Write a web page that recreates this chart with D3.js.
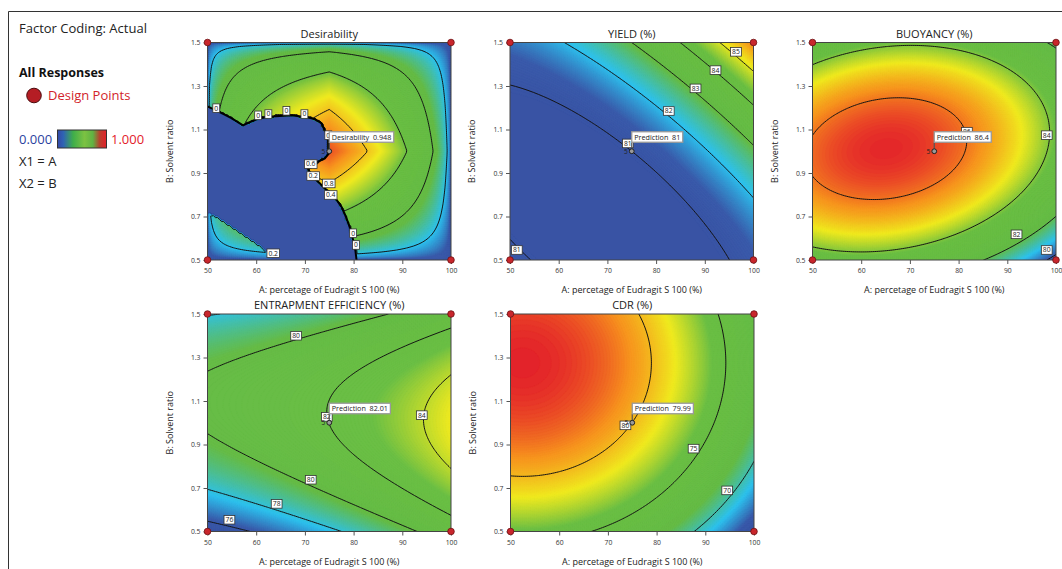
<!DOCTYPE html>
<html><head><meta charset="utf-8">
<script src="https://cdn.jsdelivr.net/npm/d3@7"></script>
<style>
body{margin:0;background:#fff;}
svg{display:block;font-family:'Open Sans',sans-serif;}
</style>
</head><body>
<svg id="c" width="1062" height="569"></svg>
<script>
// ---------------- DATA ----------------
const factorA = [50, 100];          // A: percetage of Eudragit S 100 (%)
const factorB = [0.5, 1.5];         // B: Solvent ratio
const xTicks = [50, 60, 70, 80, 90, 100];
const yTicks = [0.5, 0.7, 0.9, 1.1, 1.3, 1.5];
const designA = [50, 100, 50, 100];
const designB = [0.5, 0.5, 1.5, 1.5];
const centerA = 75, centerB = 1.0, centerReps = "5";

// fitted quadratic models, coded units: [b0, A, B, AB, A^2, B^2]
const yieldCoef = [81.0, 1.12, 1.25, 1.1, 0.75, 0.75];
const buoyCoef  = [86.4, -1.2, 0.40, 0.65, -1.5, -3.0];
const eeCoef    = [82.01, 2.25, 0.708, -0.638, 0.41, -3.6];
const cdrCoef   = [79.99, -5.4, 3.39, 0, -3.0, -3.08];

// desirability: target goals for A and B, weights [low side, high side]
const desirPeak = 0.948;
const desWeightA = [0.3, 0.45];
const desWeightB = [0.5, 0.35];
// boundary of the zero-desirability region
const zeroEdgeA = [50, 52.9, 54.9, 57.3, 59.0, 60.7, 63.2, 67.3, 70.7, 72.0, 73.4, 74.2, 74.8, 74.9, 74.1, 72.7, 71.7, 70.7, 71.0, 72.0, 73.1, 74.1, 75.5, 76.5, 77.5, 78.4, 79.3, 79.9, 80.4, 80.6];
const zeroEdgeB = [1.206, 1.175, 1.152, 1.119, 1.137, 1.152, 1.16, 1.165, 1.155, 1.148, 1.129, 1.091, 1.06, 0.99, 0.967, 0.952, 0.936, 0.921, 0.898, 0.875, 0.852, 0.829, 0.806, 0.776, 0.745, 0.70, 0.645, 0.592, 0.54, 0.5];
const wedgeEdgeA = [63.8, 62.5, 60.4, 58.3, 56.3, 54.2, 52.2, 50];
const wedgeEdgeB = [0.5, 0.531, 0.569, 0.6, 0.63, 0.661, 0.692, 0.722];

// contour levels
const desLevels = [0.2, 0.4, 0.6, 0.8];
const yieldLevels = [81, 82, 83, 84, 85];
const buoyLevels = [80, 82, 84, 86];
const eeLevels = [76, 78, 80, 82, 84];
const cdrLevels = [70, 75, 80];

// colour ranges
const desRange = [0, 1];
const yieldRange = [80.9, 86.6];
const buoyRange = [79.5, 86.7];
const eeRange = [75.2, 88];
const cdrRange = [65.2, 83.4];

// contour label placements
const desLabelA = [51.8, 60.4, 62.5, 66.2, 69.9, 74.8, 71.2, 71.7, 74.9, 75.3, 79.9, 80.5, 63.5];
const desLabelB = [1.198, 1.165, 1.171, 1.186, 1.171, 1.074, 0.941, 0.886, 0.852, 0.799, 0.623, 0.569, 0.531];
const desLabelT = ["0", "0", "0", "0", "0", "0", "0.6", "0.2", "0.8", "0.4", "0", "0", "0.2"];
const yieldLabelA = [96.4, 92.2, 88.1, 82.6, 74.2, 51.4];
const yieldLabelB = [1.457, 1.373, 1.289, 1.185, 1.036, 0.546];
const yieldLabelT = ["85", "84", "83", "82", "81", "81"];
const buoyLabelA = [81.7, 98.1, 91.9, 98.1];
const buoyLabelB = [1.09, 1.074, 0.618, 0.546];
const buoyLabelT = ["86", "84", "82", "80"];
const eeLabelA = [68.2, 94.0, 71.2, 64.2, 54.5, 74.5];
const eeLabelB = [1.40, 1.035, 0.738, 0.627, 0.554, 1.027];
const eeLabelT = ["80", "84", "80", "78", "76", "82"];
const cdrLabelA = [73.6, 87.6, 94.5];
const cdrLabelB = [0.988, 0.881, 0.689];
const cdrLabelT = ["80", "75", "70"];

const titles = ["Desirability", "YIELD (%)", "BUOYANCY (%)", "ENTRAPMENT EFFICIENCY (%)", "CDR (%)"];
const predNames = ["Desirability", "Prediction", "Prediction", "Prediction", "Prediction"];
const predValues = ["0.948", "81", "86.4", "82.01", "79.99"];

const paletteStops = [0, 0.08, 0.2, 0.36, 0.6, 0.74, 0.87, 1];
const paletteColors = ["#3953a4", "#3a5bab", "#2ec2ee", "#66bc46", "#6bbf45", "#f0ea1f", "#f7931e", "#e3202a"];
const legendStops = [0, 0.12, 0.32, 0.55, 0.72, 0.86, 1];
const legendColors = ["#3448a6", "#2f63b4", "#3fae4a", "#7cc242", "#5fb343", "#b8402e", "#e3202a"];

// ---------------- MODELS ----------------
function quad(c) {
  return (A, B) => {
    const a = (A - 75) / 25, b = (B - 1) / 0.5;
    return c[0] + c[1]*a + c[2]*b + c[3]*a*b + c[4]*a*a + c[5]*b*b;
  };
}
const zeroPoly = zeroEdgeA.map((v, i) => [v, zeroEdgeB[i]])
  .concat(wedgeEdgeA.map((v, i) => [v, wedgeEdgeB[i]]));
function desirability(A, B) {
  if (d3.polygonContains(zeroPoly, [A, B])) return 0;
  const a = (A - 75) / 25, b = (B - 1) / 0.5;
  const da = Math.pow(Math.max(0, 1 - Math.abs(a)), a < 0 ? desWeightA[0] : desWeightA[1]);
  const db = Math.pow(Math.max(0, 1 - Math.abs(b)), b < 0 ? desWeightB[0] : desWeightB[1]);
  return desirPeak * da * db;
}

const palette = d3.scaleLinear().domain(paletteStops).range(paletteColors).interpolate(d3.interpolateRgb).clamp(true);

// ---------------- LAYOUT ----------------
const svg = d3.select('#c');
const PW = 243.5, PH = 217.5;
const panels = [
  {x0: 207.5, y0: 42.5, f: desirability, range: desRange, levels: desLevels, la: desLabelA, lb: desLabelB, lt: desLabelT},
  {x0: 510.0, y0: 42.5, f: quad(yieldCoef), range: yieldRange, levels: yieldLevels, la: yieldLabelA, lb: yieldLabelB, lt: yieldLabelT},
  {x0: 812.5, y0: 42.5, f: quad(buoyCoef), range: buoyRange, levels: buoyLevels, la: buoyLabelA, lb: buoyLabelB, lt: buoyLabelT},
  {x0: 207.5, y0: 314, f: quad(eeCoef), range: eeRange, levels: eeLevels, la: eeLabelA, lb: eeLabelB, lt: eeLabelT},
  {x0: 510.5, y0: 314, f: quad(cdrCoef), range: cdrRange, levels: cdrLevels, la: cdrLabelA, lb: cdrLabelB, lt: cdrLabelT}
];

// outer frame
svg.append('line').attr('x1', 8.5).attr('y1', 11.5).attr('x2', 1062).attr('y2', 11.5).attr('stroke', '#333').attr('stroke-width', 1);
svg.append('line').attr('x1', 8.5).attr('y1', 11.5).attr('x2', 8.5).attr('y2', 569).attr('stroke', '#333').attr('stroke-width', 1);

const defs = svg.append('defs');

panels.forEach((p, k) => {
  const g = svg.append('g');
  const x = d3.scaleLinear().domain(factorA).range([p.x0, p.x0 + PW]);
  const y = d3.scaleLinear().domain(factorB).range([p.y0 + PH, p.y0]);
  const nx = 123, ny = 110;
  const vals = new Float64Array(nx * ny);
  for (let j = 0; j < ny; j++) {
    const B = factorB[1] - j / (ny - 1) * (factorB[1] - factorB[0]);
    for (let i = 0; i < nx; i++) {
      const A = factorA[0] + i / (nx - 1) * (factorA[1] - factorA[0]);
      vals[j * nx + i] = p.f(A, B);
    }
  }
  const proj = d3.geoTransform({point: function(gx, gy) {
    this.stream.point(
      x(factorA[0] + (gx - 0.5) * (factorA[1] - factorA[0]) / (nx - 1)),
      y(factorB[1] - (gy - 0.5) * (factorB[1] - factorB[0]) / (ny - 1)));
  }});
  const path = d3.geoPath(proj);
  const clipId = 'clip' + k;
  defs.append('clipPath').attr('id', clipId).append('rect')
    .attr('x', p.x0).attr('y', p.y0).attr('width', PW).attr('height', PH);
  const inner = g.append('g').attr('clip-path', `url(#${clipId})`);
  const [lo, hi] = p.range;
  const col = v => palette((v - lo) / (hi - lo));
  const nT = 170, step = (hi - lo) / nT;
  inner.append('rect').attr('x', p.x0).attr('y', p.y0).attr('width', PW).attr('height', PH).attr('fill', col(lo + step / 2));
  const gen = d3.contours().size([nx, ny]);
  for (let t = 1; t < nT; t++) {
    const th = lo + t * step;
    const c = gen.contour(vals, th);
    if (c.coordinates.length === 0) continue;
    inner.append('path').attr('d', path(c)).attr('fill', col(th + step / 2)).attr('stroke', col(th + step / 2)).attr('stroke-width', 0.3);
  }
  // contour lines
  p.levels.forEach(lv => {
    inner.append('path').attr('d', path(gen.contour(vals, lv)))
      .attr('fill', 'none').attr('stroke', '#141414').attr('stroke-width', 1);
  });
  if (k === 0) {
    const ln = d3.line().x(d => x(d[0])).y(d => y(d[1]));
    inner.append('path').attr('d', ln(zeroEdgeA.map((v, i) => [v, zeroEdgeB[i]])))
      .attr('fill', 'none').attr('stroke', '#000').attr('stroke-width', 2);
  }
  // frame
  g.append('rect').attr('x', p.x0).attr('y', p.y0).attr('width', PW).attr('height', PH)
    .attr('fill', 'none').attr('stroke', '#444').attr('stroke-width', 1);
  // axes
  const ax = g.append('g').attr('transform', `translate(0,${p.y0 + PH})`)
    .call(d3.axisBottom(x).tickValues(xTicks).tickSize(4).tickSizeOuter(0));
  const ay = g.append('g').attr('transform', `translate(${p.x0},0)`)
    .call(d3.axisLeft(y).tickValues(yTicks).tickFormat(d3.format('.1f')).tickSize(4).tickSizeOuter(0));
  [ax, ay].forEach(a => {
    a.select('.domain').remove();
    a.selectAll('line').attr('stroke', '#555');
    a.selectAll('text').attr('font-family', "'Open Sans',sans-serif").attr('font-size', 6.8).attr('fill', '#333');
  });
  ax.selectAll('text').attr('dy', '0.9em');
  // titles
  g.append('text').attr('x', p.x0 + PW / 2).attr('y', p.y0 - 5).attr('text-anchor', 'middle')
    .attr('font-size', 11).attr('fill', '#222').text(titles[k]);
  g.append('text').attr('x', p.x0 + PW / 2).attr('y', p.y0 + PH + 33).attr('text-anchor', 'middle')
    .attr('font-size', 9).attr('fill', '#222').text('A: percetage of Eudragit S 100 (%)');
  g.append('text').attr('transform', `translate(${p.x0 - 38},${p.y0 + PH / 2}) rotate(-90)`)
    .attr('text-anchor', 'middle').attr('dy', '0.35em')
    .attr('font-size', 9).attr('fill', '#222').text('B: Solvent ratio');
  // contour labels
  p.la.forEach((a, i) => {
    const lx = x(a), ly = y(p.lb[i]);
    const lg = g.append('g');
    const t = lg.append('text').attr('x', lx).attr('y', ly).attr('dy', '0.35em').attr('text-anchor', 'middle')
      .attr('font-size', 6.8).attr('fill', '#222').text(p.lt[i]);
    const w = t.node().getComputedTextLength() + 3;
    lg.insert('rect', 'text').attr('x', lx - w / 2).attr('y', ly - 4.3).attr('width', w).attr('height', 8.6)
      .attr('fill', '#fff').attr('stroke', '#333').attr('stroke-width', 0.8);
  });
  // design points
  designA.forEach((a, i) => {
    g.append('circle').attr('cx', x(a)).attr('cy', y(designB[i])).attr('r', 3.3)
      .attr('fill', '#c8262c').attr('stroke', '#6d1013').attr('stroke-width', 0.8);
  });
  const cx = x(centerA), cy = y(centerB);
  g.append('text').attr('x', cx - 4).attr('y', cy).attr('dy', '0.35em').attr('text-anchor', 'end')
    .attr('font-size', 6.5).attr('fill', '#222').text(centerReps);
  // prediction flag
  g.append('line').attr('x1', cx).attr('y1', cy).attr('x2', cx).attr('y2', cy - 9)
    .attr('stroke', '#555').attr('stroke-width', 1.2);
  g.append('circle').attr('cx', cx).attr('cy', cy).attr('r', 2.4)
    .attr('fill', '#9a9a9a').attr('stroke', '#222').attr('stroke-width', 1);
  const pg = g.append('g');
  const pt = pg.append('text').attr('x', cx + 2.5).attr('y', cy - 14).attr('dy', '0.35em')
    .attr('font-size', 7.2).attr('fill', '#222').style('white-space', 'pre')
    .text(predNames[k] + '  ' + predValues[k]);
  const pw = pt.node().getComputedTextLength() + 5;
  pg.insert('rect', 'text').attr('x', cx).attr('y', cy - 19.5).attr('width', pw).attr('height', 10.5)
    .attr('fill', '#fff').attr('stroke', '#999').attr('stroke-width', 1.3);
});

// ---------------- LEGEND ----------------
const lgd = svg.append('g');
lgd.append('text').attr('x', 19).attr('y', 33).attr('font-size', 13).attr('fill', '#222').text('Factor Coding: Actual');
lgd.append('text').attr('x', 19).attr('y', 77).attr('font-size', 12.5).attr('font-weight', 'bold').attr('fill', '#111').text('All Responses');
lgd.append('circle').attr('cx', 34).attr('cy', 95.5).attr('r', 7.3).attr('fill', '#b51d24').attr('stroke', '#4a0b0d').attr('stroke-width', 1);
lgd.append('text').attr('x', 48).attr('y', 100).attr('font-size', 13).attr('fill', '#d2232a').text('Design Points');
const grad = defs.append('linearGradient').attr('id', 'lgGrad');
legendStops.forEach((s, i) => grad.append('stop').attr('offset', s).attr('stop-color', legendColors[i]));
lgd.append('text').attr('x', 19).attr('y', 144).attr('font-size', 13).attr('fill', '#2b3fa0').text(d3.format('.3f')(desRange[0]));
lgd.append('rect').attr('x', 57.5).attr('y', 130).attr('width', 49).attr('height', 18)
  .attr('fill', 'url(#lgGrad)').attr('stroke', '#333').attr('stroke-width', 1);
lgd.append('text').attr('x', 111).attr('y', 144).attr('font-size', 13).attr('fill', '#e3202a').text(d3.format('.3f')(desRange[1]));
lgd.append('text').attr('x', 19).attr('y', 166).attr('font-size', 13).attr('fill', '#222').text('X1 = A');
lgd.append('text').attr('x', 19).attr('y', 188).attr('font-size', 13).attr('fill', '#222').text('X2 = B');
</script>
</body></html>
